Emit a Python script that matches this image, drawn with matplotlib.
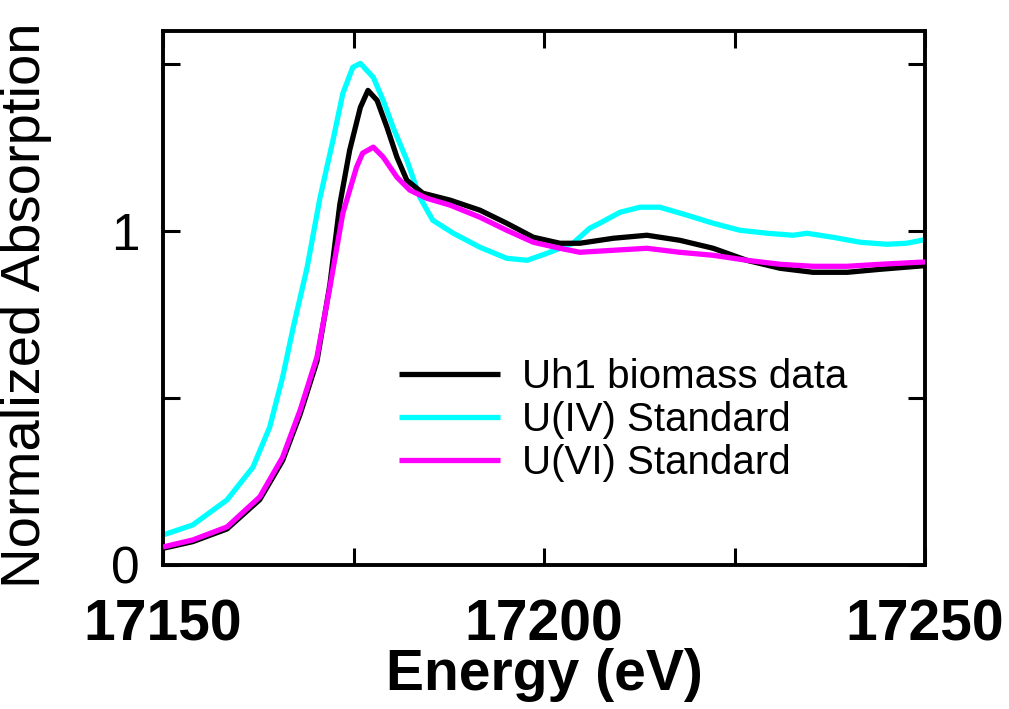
import matplotlib
matplotlib.use("Agg")
import matplotlib.pyplot as plt
from matplotlib.ticker import FixedLocator

plt.rcParams['font.family'] = ['Liberation Sans', 'DejaVu Sans']

# --- data ---
uh1_E = [17150.0, 17153.9, 17158.4, 17162.7, 17165.7, 17168.0, 17170.2, 17171.9, 17173.2,
         17174.5, 17175.9, 17176.9, 17178.1, 17179.4, 17180.7, 17182.0, 17184.1, 17187.7,
         17191.6, 17195.1, 17198.6, 17202.1, 17204.7, 17209.1, 17213.5, 17217.8, 17222.2,
         17226.6, 17231.0, 17235.3, 17239.8, 17244.1, 17250.0]
uh1_v = [0.050, 0.070, 0.108, 0.196, 0.313, 0.452, 0.610, 0.840, 1.080,
         1.243, 1.371, 1.422, 1.392, 1.311, 1.222, 1.153, 1.114, 1.093,
         1.063, 1.024, 0.982, 0.964, 0.964, 0.979, 0.988, 0.973, 0.949,
         0.913, 0.889, 0.877, 0.877, 0.886, 0.897]

u4_E = [17150.0, 17153.9, 17158.4, 17161.8, 17164.0, 17165.7, 17167.1, 17168.9, 17170.6,
        17172.3, 17173.6, 17174.9, 17175.9, 17177.6, 17178.9, 17180.2, 17182.0, 17183.7,
        17185.4, 17188.1, 17191.6, 17195.1, 17197.8, 17200.4, 17203.8, 17206.0, 17207.3,
        17210.0, 17212.6, 17215.2, 17218.8, 17222.2, 17225.7, 17229.3, 17232.7, 17234.5,
        17237.9, 17241.5, 17245.0, 17247.6, 17250.0]
u4_v = [0.090, 0.120, 0.195, 0.293, 0.413, 0.563, 0.713, 0.890, 1.100,
        1.272, 1.413, 1.491, 1.503, 1.461, 1.392, 1.311, 1.213, 1.102,
        1.033, 0.994, 0.952, 0.919, 0.913, 0.934, 0.964, 1.009, 1.024,
        1.057, 1.072, 1.072, 1.048, 1.024, 1.003, 0.994, 0.988, 0.994,
        0.982, 0.967, 0.961, 0.964, 0.975]

u6_E = [17150.0, 17153.9, 17158.4, 17162.7, 17165.7, 17168.0, 17170.2, 17171.9, 17173.6,
        17175.4, 17176.2, 17177.6, 17178.9, 17180.7, 17182.4, 17184.6, 17187.7, 17191.6,
        17195.1, 17198.6, 17202.1, 17204.7, 17209.1, 17213.5, 17217.8, 17222.2, 17226.6,
        17231.0, 17235.3, 17239.8, 17244.1, 17250.0]
u6_v = [0.054, 0.075, 0.114, 0.204, 0.323, 0.464, 0.623, 0.832, 1.054,
        1.192, 1.234, 1.252, 1.222, 1.162, 1.123, 1.099, 1.078, 1.042,
        1.003, 0.967, 0.949, 0.937, 0.943, 0.949, 0.937, 0.928, 0.913,
        0.901, 0.895, 0.895, 0.901, 0.908]

series_labels = ["Uh1 biomass data", "U(IV) Standard", "U(VI) Standard"]
series_colors = ["#000000", "#00FFFF", "#FF00FF"]

x_major = [17150, 17200, 17250]
x_major_labels = ["17150", "17200", "17250"]
x_minor = [17175, 17225]
y_major = [0, 1]
y_major_labels = ["0", "1"]
y_minor = [0.5, 1.5]

# --- figure ---
fig = plt.figure(figsize=(10.09, 7.09), dpi=100)
ax = fig.add_axes([163/1009, 1 - 565/709, (925-163)/1009, (565-31)/709])

lw = 3.8
style = dict(lw=lw, solid_joinstyle="round", solid_capstyle="butt")
ax.plot(uh1_E, uh1_v, color=series_colors[0], label=series_labels[0], zorder=3, **style)
ax.plot(u4_E, u4_v, color=series_colors[1], label=series_labels[1], zorder=2, **style)
ax.plot(u6_E, u6_v, color=series_colors[2], label=series_labels[2], zorder=4, **style)

ax.set_xlim(17150, 17250)
ax.set_ylim(0, 1.6)

ax.xaxis.set_major_locator(FixedLocator(x_major))
ax.set_xticklabels(x_major_labels)
ax.xaxis.set_minor_locator(FixedLocator(x_minor))
ax.yaxis.set_major_locator(FixedLocator(y_major))
ax.set_yticklabels(y_major_labels)
ax.yaxis.set_minor_locator(FixedLocator(y_minor))

for which in ("major", "minor"):
    ax.tick_params(axis="both", which=which, direction="in", length=12, width=2.2,
                   top=True, right=True, bottom=True, left=True)
ax.tick_params(axis="x", which="major", labelsize=41, pad=24)
for t in ax.get_xticklabels():
    t.set_fontweight("bold")
ax.tick_params(axis="y", which="major", labelsize=37, pad=17)

for s in ax.spines.values():
    s.set_linewidth(2.8)

ax.set_xlabel("Energy (eV)", fontsize=41, fontweight="bold")
ax.xaxis.set_label_coords(0.5, -0.155)
ax.set_ylabel("Normalized Absorption", fontsize=40.5)
ax.yaxis.set_label_coords(-0.146, 0.487)

leg = ax.legend(loc="center left", bbox_to_anchor=(0.31, 0.2715), frameon=False,
                fontsize=29, handlelength=2.5, handletextpad=0.55, labelspacing=0.12,
                borderpad=0, borderaxespad=0)
for line in leg.get_lines():
    line.set_linewidth(3.8)

fig.savefig("out.png", dpi=100)
